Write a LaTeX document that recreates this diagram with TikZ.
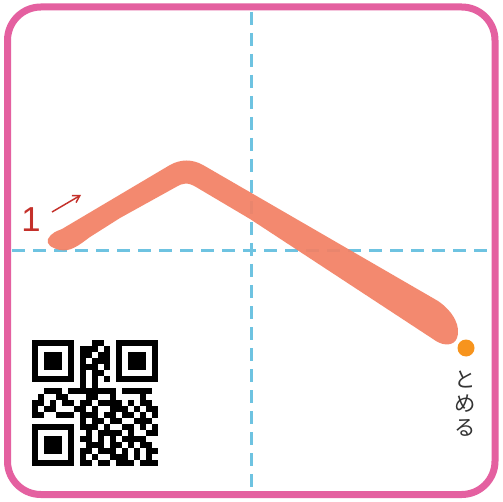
\documentclass[tikz,border=0pt]{standalone}
\usepackage{fontspec}
\setmainfont{Liberation Sans}
\newfontfamily\jpfont{Noto Sans CJK JP}
\usetikzlibrary{arrows.meta}

\definecolor{framepink}{RGB}{228,96,160}
\definecolor{guidecyan}{RGB}{110,195,225}
\definecolor{strokesalmon}{RGB}{243,129,101}
\definecolor{stoporange}{RGB}{247,148,29}
\definecolor{numred}{RGB}{196,48,42}
\definecolor{hintgray}{RGB}{51,51,51}

% one row of the code, 1 = dark module
\newcount\qrc
\newcommand\qrline[2]{\qrc=0 \def\qry{#1}\expandafter\qrscan#2\relax}
\def\qrscan#1{\ifx#1\relax\else
  \if1#1\fill[black] ({\the\qrc*6+32},{\qry*6+340}) rectangle ++(6.2,6.2);\fi
  \advance\qrc by 1
  \expandafter\qrscan\fi}

\begin{document}
\begin{tikzpicture}[
      x=0.75pt, y=-0.75pt,
      frame/.style={draw=framepink, line width=5.25pt, rounded corners=25pt},
      guide/.style={draw=guidecyan, line width=2.25pt, dash pattern=on 9.75pt off 6pt},
      brush/.style={fill=strokesalmon, fill opacity=0.93},
      order/.style={font=\fontsize{26}{28}\selectfont, text=numred, inner sep=0pt},
      hint/.style={font=\jpfont\fontsize{16}{18}\selectfont, text=hintgray, align=center, inner sep=0pt},
  ]

  \useasboundingbox (0,0) rectangle (503,502);
  \fill[white] (0,0) rectangle (503,502);

  % --- guide cross ---
  \draw[guide] (251,12) -- (251,492);
  \draw[guide] (12,251) -- (492,251);

  % --- the stroke ---
  \fill[brush] (48,239) .. controls (51,233) and (57,231) .. (62,229)
    -- (170,165) .. controls (181,159) and (192,159) .. (203,165)
    -- (438,301) .. controls (454,312) and (461,327) .. (457,338)
    .. controls (454,346) and (444,346) .. (436,341)
    -- (250,219) -- (196,187) .. controls (188,182) and (182,183) .. (176,187)
    -- (120,218) -- (90,237) .. controls (78,246) and (70,252) .. (60,250)
    .. controls (51,248) and (46,244) .. cycle;

  % stroke number and direction
  \node[order] (num) at (31,220) {1};
  \coordinate (dirstart) at (52,212);
  \coordinate (dirend) at (81,195);
  \draw[numred, line width=1.1pt, -{Straight Barb[length=5pt, width=6pt]}] (dirstart) -- (dirend);

  % --- stop mark ---
  \fill[stoporange] (466,348) circle (8.5);
  \coordinate (stop) at (466,348);
  \node[hint] (tomeru) at (465,404) {と\\め\\る};

  % --- code block ---
  \foreach \bits [count=\i from 0] in {111111100011001111111,
    100000101110101000001,
    101110101101101011101,
    101110101011101011101,
    101110101110101011101,
    100000101011001000001,
    111111101010101111111,
    000000001010000000000,
    001110111111110111110,
    010011000110010000100,
    110101101101111010110,
    101100011010011101011,
    110011101110110110101,
    000000001011011001110,
    111111101110100110101,
    100000100101111010011,
    101110101101010111100,
    101110100111011010110,
    101110101101110101011,
    100000101010011101010,
    111111101101101110111}
    \qrline{\i}{\bits};

  % --- frame ---
  \draw[frame] (7.5,7) rectangle (495,494.5);

\end{tikzpicture}
\end{document}
